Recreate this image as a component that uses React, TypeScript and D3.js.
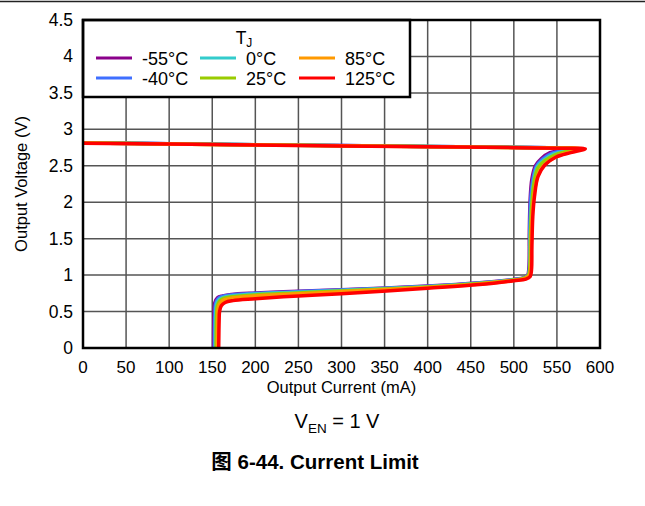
import React from 'react';
import * as d3 from 'd3';

const temps = ['-55°C', '-40°C', '0°C', '25°C', '85°C', '125°C'];
const colors = ['#8B008B', '#3F6FFF', '#33CCCC', '#99CC00', '#FF9900', '#FF0000'];
const xTicks = [0, 50, 100, 150, 200, 250, 300, 350, 400, 450, 500, 550, 600];
const yTicks = [0, 0.5, 1, 1.5, 2, 2.5, 3, 3.5, 4, 4.5];

const iM55 = [0, 100, 200, 300, 400, 500, 540, 562, 555, 542, 532, 525, 521, 519, 518, 517.5, 516, 512, 500, 460, 400, 300, 250, 200, 172, 162, 156, 153, 152, 151.5];
const vM55 = [2.815, 2.803, 2.79, 2.778, 2.766, 2.754, 2.748, 2.74, 2.715, 2.68, 2.6, 2.5, 2.32, 2.05, 1.6, 1.1, 1.0, 0.965, 0.94, 0.895, 0.85, 0.8, 0.78, 0.755, 0.735, 0.715, 0.69, 0.62, 0.45, 0];

const iM40 = [0, 100, 200, 300, 400, 500, 540, 565, 557, 544, 533, 526, 522, 519.5, 518.5, 518, 516.5, 512, 500, 460, 400, 300, 250, 200, 172, 162, 157, 154, 153, 152.5];
const vM40 = [2.815, 2.803, 2.79, 2.778, 2.766, 2.754, 2.748, 2.74, 2.71, 2.67, 2.59, 2.49, 2.3, 2.03, 1.6, 1.1, 1.0, 0.962, 0.937, 0.892, 0.847, 0.797, 0.775, 0.75, 0.728, 0.708, 0.68, 0.61, 0.45, 0];

const i0 = [0, 100, 200, 300, 400, 500, 545, 568, 560, 546, 535, 527, 523, 520.5, 519, 518.5, 517, 512, 500, 460, 400, 300, 250, 200, 173, 163, 158, 155, 154, 153.5];
const v0 = [2.813, 2.801, 2.788, 2.776, 2.764, 2.752, 2.746, 2.738, 2.705, 2.66, 2.58, 2.48, 2.28, 2.0, 1.6, 1.1, 1.0, 0.96, 0.935, 0.888, 0.842, 0.79, 0.765, 0.74, 0.715, 0.695, 0.665, 0.6, 0.45, 0];

const i25 = [0, 100, 200, 300, 400, 500, 548, 571, 562, 548, 536, 528, 523.5, 521, 519.5, 518.5, 517, 512, 500, 460, 400, 300, 250, 200, 173, 163, 159, 156, 155, 154.5];
const v25 = [2.812, 2.8, 2.787, 2.775, 2.763, 2.751, 2.745, 2.737, 2.7, 2.65, 2.57, 2.47, 2.27, 1.98, 1.6, 1.1, 1.0, 0.958, 0.932, 0.884, 0.837, 0.782, 0.755, 0.728, 0.703, 0.682, 0.65, 0.58, 0.43, 0];

const i85 = [0, 100, 200, 300, 400, 500, 552, 576, 566, 552, 539, 530, 525, 522, 520.5, 519.5, 518, 513, 500, 460, 400, 300, 250, 200, 173, 164, 160, 157, 156.5, 156];
const v85 = [2.811, 2.799, 2.786, 2.774, 2.762, 2.75, 2.744, 2.735, 2.69, 2.64, 2.55, 2.43, 2.22, 1.95, 1.6, 1.1, 1.0, 0.955, 0.928, 0.878, 0.83, 0.772, 0.743, 0.713, 0.685, 0.66, 0.625, 0.55, 0.42, 0];

const i125 = [0, 100, 200, 300, 400, 500, 555, 583, 566, 549, 536, 528, 524, 522, 521, 520.5, 519, 514, 500, 460, 400, 300, 250, 200, 174, 165, 160.5, 158.5, 158, 157.5];
const v125 = [2.81, 2.798, 2.785, 2.773, 2.761, 2.749, 2.742, 2.732, 2.68, 2.62, 2.51, 2.35, 2.08, 1.8, 1.4, 1.07, 0.98, 0.945, 0.922, 0.87, 0.82, 0.745, 0.715, 0.675, 0.65, 0.625, 0.58, 0.5, 0.38, 0];

const seriesCurrents = [iM55, iM40, i0, i25, i85, i125];
const seriesVoltages = [vM55, vM40, v0, v25, v85, v125];

const W = 645;
const H = 506;
const M = { left: 83, right: 600, top: 20, bottom: 348 };
const FONT = 'Liberation Sans, Arial, Helvetica, sans-serif';

export default function App() {
  const x = d3.scaleLinear().domain([0, 600]).range([M.left, M.right]);
  const y = d3.scaleLinear().domain([0, 4.5]).range([M.bottom, M.top]);
  const line = d3
    .line<[number, number]>()
    .x((d) => x(d[0]))
    .y((d) => y(d[1]))
    .curve(d3.curveCatmullRom.alpha(0.5));

  const legendCols = [96, 200, 299];
  const legendRows = [58, 78];

  return (
    <svg
      width={W}
      height={H}
      style={{ position: 'absolute', left: 0, top: 0, background: '#fff' }}
      fontFamily={FONT}
    >
      <rect x={0} y={0} width={W} height={H} fill="#fff" />
      <line x1={0} x2={W} y1={1.5} y2={1.5} stroke="#222" strokeWidth={1.5} />
      <defs>
        <clipPath id="plotClip">
          <rect x={M.left} y={M.top} width={M.right - M.left} height={M.bottom - M.top} />
        </clipPath>
      </defs>
      {/* grid */}
      {xTicks.slice(1, -1).map((t) => (
        <line key={'gx' + t} x1={x(t)} x2={x(t)} y1={M.top} y2={M.bottom} stroke="#555" strokeWidth={1.5} />
      ))}
      {yTicks.slice(1, -1).map((t) => (
        <line key={'gy' + t} x1={M.left} x2={M.right} y1={y(t)} y2={y(t)} stroke="#555" strokeWidth={1.5} />
      ))}
      {/* curves */}
      <g clipPath="url(#plotClip)">
        {seriesCurrents.map((cs, k) => {
          const pts: [number, number][] = cs.map((c, j) => [c, seriesVoltages[k][j]]);
          return (
            <path
              key={'s' + k}
              d={line(pts) || ''}
              fill="none"
              stroke={colors[k]}
              strokeWidth={3.5}
              strokeLinejoin="round"
              strokeLinecap="butt"
            />
          );
        })}
      </g>
      {/* legend */}
      <rect x={M.left} y={M.top} width={327} height={77} fill="#fff" stroke="#000" strokeWidth={2.5} />
      <text x={244} y={44} fontSize={17.5} textAnchor="middle">
        T<tspan fontSize={12} dy={3}>J</tspan>
      </text>
      {temps.map((t, k) => {
        const col = Math.floor(k / 2);
        const row = k % 2;
        const lx = legendCols[col];
        const ly = legendRows[row];
        return (
          <g key={'l' + k}>
            <line x1={lx} x2={lx + 36} y1={ly} y2={ly} stroke={colors[k]} strokeWidth={3} />
            <text x={lx + 46} y={ly + 6.5} fontSize={18}>
              {t}
            </text>
          </g>
        );
      })}
      {/* frame */}
      <rect
        x={M.left}
        y={M.top}
        width={M.right - M.left}
        height={M.bottom - M.top}
        fill="none"
        stroke="#000"
        strokeWidth={2.5}
      />
      {/* tick labels */}
      {xTicks.map((t) => (
        <text key={'xt' + t} x={x(t)} y={373} fontSize={17} textAnchor="middle">
          {t}
        </text>
      ))}
      {yTicks.map((t) => (
        <text key={'yt' + t} x={73} y={y(t) + 6} fontSize={17.5} textAnchor="end">
          {t}
        </text>
      ))}
      <text x={(M.left + M.right) / 2} y={393} fontSize={16.5} textAnchor="middle">
        Output Current (mA)
      </text>
      <text
        transform={`translate(27, ${(M.top + M.bottom) / 2}) rotate(-90)`}
        fontSize={16.5}
        textAnchor="middle"
      >
        Output Voltage (V)
      </text>
      <text x={337} y={428} fontSize={20} textAnchor="middle">
        V<tspan fontSize={13.5} dy={5}>EN</tspan>
        <tspan dy={-5}> = 1 V</tspan>
      </text>
      <text x={315} y={469} fontSize={20.5} fontWeight="bold" textAnchor="middle">
        <tspan fontFamily="Noto Sans CJK SC">图</tspan> 6-44. Current Limit
      </text>
    </svg>
  );
}
